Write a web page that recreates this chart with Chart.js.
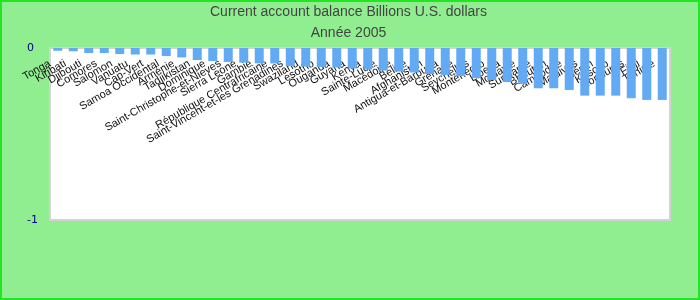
<!DOCTYPE html>
<html>
<head>
<meta charset="utf-8">
<script src="https://cdn.jsdelivr.net/npm/chart.js@4"></script>
<style>
  body { margin: 0; background: #90ee90; }
  #wrap { width: 700px; height: 300px; }
</style>
</head>
<body>
<div id="wrap"><canvas id="chart" width="700" height="300"></canvas></div>
<script>
var countries = ['Tonga', 'Kiribati', 'Djibouti', 'Comores', 'Salomon', 'Vanuatu', 'Cap-Vert', 'Samoa Occidental',
  'Arménie', 'Tadjikistan', 'Dominique', 'Saint-Christophe-et-Nieves', 'Sierra Leone', 'Gambie',
  'République Centrafricaine', 'Saint-Vincent-et-les Grenadines', 'Swaziland', 'Lesotho', 'Ouganda', 'Guyana',
  'Kenya', 'Sainte-Lucie', 'Macédoine', 'Belize', 'Afghanistan', 'Antigua-et-Barbuda', 'Grenade', 'Seychelles',
  'Monténégro', 'Liberia', 'Moldavie', 'Suriname', 'Bhoutan', 'Cambodge', 'Maldives', 'Bénin', 'Kosovo',
  'Honduras', 'Fidji', 'Tunisie'];

var balance = [-0.016, -0.019, -0.029, -0.029, -0.035, -0.038, -0.038, -0.047,
  -0.055, -0.070, -0.076, -0.081, -0.085, -0.089,
  -0.090, -0.105, -0.108, -0.110, -0.113, -0.119,
  -0.125, -0.131, -0.137, -0.142, -0.151, -0.157, -0.163, -0.174,
  -0.186, -0.198, -0.209, -0.234, -0.234, -0.244, -0.277, -0.277, -0.277,
  -0.292, -0.302, -0.302];

var titleLines = ['Current account balance Billions U.S. dollars', 'Année 2005'];

// background, plot area and borders
var backdrop = {
  id: 'backdrop',
  beforeDraw: function(chart) {
    var c = chart.ctx, a = chart.chartArea;
    c.save();
    c.fillStyle = '#90ee90';
    c.fillRect(0, 0, chart.width, chart.height);
    c.strokeStyle = '#22e622';
    c.lineWidth = 2;
    c.strokeRect(1, 1, chart.width - 2, chart.height - 2);
    c.fillStyle = '#ffffff';
    c.fillRect(a.left, a.top, a.right - a.left, a.bottom - a.top);
    c.strokeStyle = '#d3d3d3';
    c.lineWidth = 2;
    c.strokeRect(a.left, a.top, a.right - a.left, a.bottom - a.top);
    c.restore();
  }
};

var ctx = document.getElementById('chart').getContext('2d');

var myChart = new Chart(ctx, {
  type: 'bar',
  data: {
    labels: countries,
    datasets: [{
      data: balance,
      backgroundColor: '#62aaf4',
      borderWidth: 0,
      categoryPercentage: 1,
      barPercentage: 0.58
    }]
  },
  options: {
    responsive: false,
    animation: false,
    layout: {
      padding: { left: 27, right: 30, top: 0, bottom: 80 }
    },
    scales: {
      x: {
        position: { y: 0 },
        z: 1,
        grid: { display: false },
        border: { display: false },
        ticks: {
          autoSkip: false,
          minRotation: 30,
          maxRotation: 30,
          padding: 1,
          labelOffset: -8,
          color: '#111',
          font: { family: 'Liberation Sans', size: 11 }
        }
      },
      y: {
        min: -1,
        max: 0,
        grid: { display: false },
        border: { display: false },
        afterFit: function(scale) { scale.width = 23; },
        ticks: {
          stepSize: 1,
          crossAlign: 'far',
          color: '#000080',
          font: { family: 'DejaVu Sans', size: 11 }
        }
      }
    },
    plugins: {
      legend: { display: false },
      tooltip: { enabled: false },
      title: {
        display: true,
        text: titleLines,
        color: '#444',
        padding: { top: 2, bottom: 4 },
        font: { family: 'Liberation Sans', size: 14, weight: 'normal', lineHeight: 1.5 }
      }
    }
  },
  plugins: [backdrop]
});
</script>
</body>
</html>
